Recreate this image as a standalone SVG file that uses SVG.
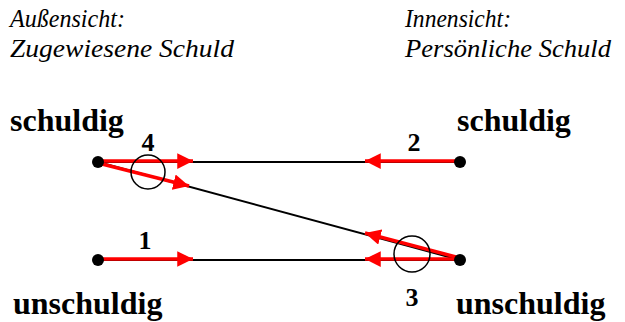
<svg xmlns="http://www.w3.org/2000/svg" width="625" height="322" viewBox="0 0 625 322">
<style>
text{font-family:'Liberation Serif','Times New Roman',serif;fill:#000}
.h{font-style:italic;font-size:25px}
.b{font-weight:bold;font-size:32px}
.n{font-weight:bold;font-size:26px}
.ln{stroke:#000;stroke-width:2;fill:none}
.ar{stroke:#f00;stroke-width:3.5;fill:none;marker-end:url(#ah)}
.c{stroke:#000;stroke-width:1.5;fill:none}
</style>
<defs>
<marker id="ah" viewBox="0 0 10 10" refX="10" refY="5" markerWidth="4.5" markerHeight="4.5" orient="auto" markerUnits="strokeWidth">
<path d="M0,0 L10,5 L0,10 Z" fill="#f00"/>
</marker>
</defs>
<g id="headers">
<text class="h" x="10" y="27" textLength="115" lengthAdjust="spacingAndGlyphs">Außensicht:</text>
<text class="h" x="10" y="57" textLength="224" lengthAdjust="spacingAndGlyphs">Zugewiesene Schuld</text>
<text class="h" x="405" y="27" textLength="106" lengthAdjust="spacingAndGlyphs">Innensicht:</text>
<text class="h" x="405" y="57" textLength="206" lengthAdjust="spacingAndGlyphs">Persönliche Schuld</text>
</g>
<g id="connectors">
<line class="ln" x1="98" y1="162" x2="460" y2="162"/>
<line class="ln" x1="98" y1="162" x2="460" y2="260"/>
<line class="ln" x1="98" y1="260" x2="460" y2="260"/>
<line class="ar" x1="98" y1="161" x2="193" y2="161"/>
<line class="ar" x1="98" y1="163" x2="189" y2="186"/>
<line class="ar" x1="460" y1="161" x2="365" y2="161"/>
<line class="ar" x1="98" y1="259" x2="193" y2="259"/>
<line class="ar" x1="460" y1="259" x2="365" y2="259"/>
<line class="ar" x1="460" y1="258" x2="365" y2="233"/>
</g>
<g id="node-schuldig-left">
<circle cx="98" cy="162" r="6" fill="#000"/>
<text class="b" x="10" y="131">schuldig</text>
</g>
<g id="node-unschuldig-left">
<circle cx="98" cy="260" r="6" fill="#000"/>
<text class="b" x="13" y="314">unschuldig</text>
</g>
<g id="node-schuldig-right">
<circle cx="460" cy="162" r="6" fill="#000"/>
<text class="b" x="457" y="131">schuldig</text>
</g>
<g id="node-unschuldig-right">
<circle cx="460" cy="260" r="6" fill="#000"/>
<text class="b" x="456" y="314">unschuldig</text>
</g>
<g id="labels">
<text class="n" x="148" y="151" text-anchor="middle">4</text>
<text class="n" x="414" y="151" text-anchor="middle">2</text>
<text class="n" x="145" y="249" text-anchor="middle">1</text>
<text class="n" x="412" y="306" text-anchor="middle">3</text>
<circle class="c" cx="148" cy="172" r="17"/>
<circle class="c" cx="412" cy="254" r="18"/>
</g>
</svg>
